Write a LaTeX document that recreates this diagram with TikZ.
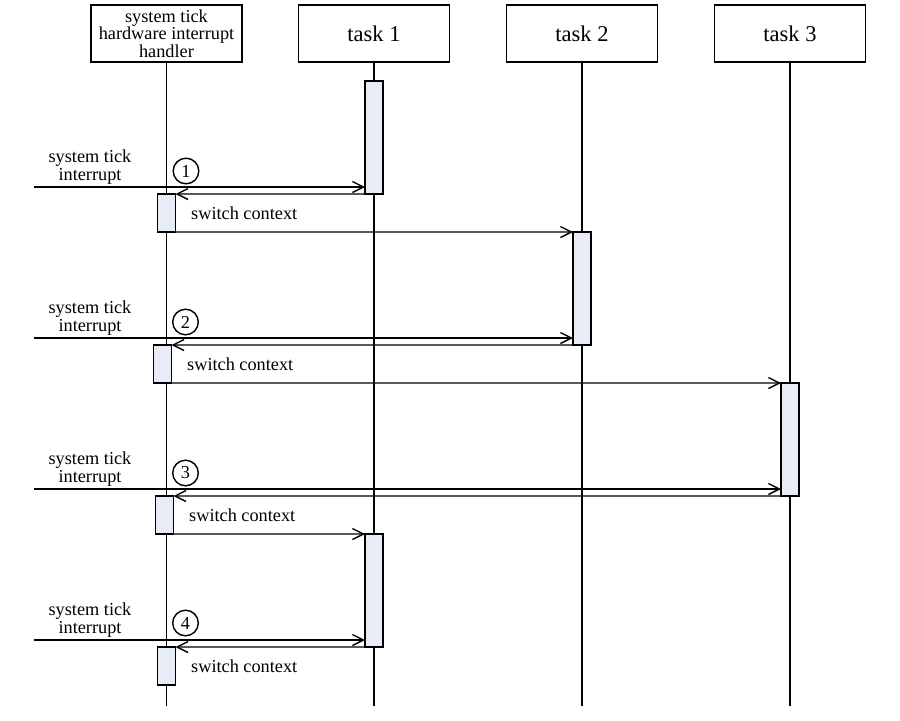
\documentclass[tikz,border=0pt]{standalone}
\usepackage{fontspec}
\setmainfont{Liberation Serif}
\usetikzlibrary{arrows.meta, positioning}
\definecolor{actfill}{RGB}{232,236,246}

\begin{document}
\begin{tikzpicture}[
    x=0.25mm, y=-0.25mm, line width=1pt,
    head/.style={rectangle, draw, line width=1.2pt, minimum width=37.75mm, minimum height=14.25mm, inner sep=0pt, align=center},
    act/.style={rectangle, draw, line width=1.2pt, fill=actfill, minimum width=4.5mm, inner sep=0pt, outer sep=0pt, anchor=north},
    msg/.style={-{Straight Barb[length=2.75mm, width=2.75mm, line width=1pt]}},
    lbl/.style={inner sep=0pt, align=center, font=\fontsize{13}{12.6}\selectfont},
    num/.style={circle, draw, minimum size=6.4mm, inner sep=0pt, font=\fontsize{13}{13}\selectfont}
]
\useasboundingbox[fill=white] (0,0) rectangle (900,720);

\node[head, font=\fontsize{13}{12.6}\selectfont] (hdl) at (166.5,33.5) {system tick\\hardware interrupt\\handler};
\node[head, font=\fontsize{16}{19}\selectfont] (t1) at (374,33.5) {task 1};
\node[head, font=\fontsize{16}{19}\selectfont] (t2) at (582,33.5) {task 2};
\node[head, font=\fontsize{16}{19}\selectfont] (t3) at (790,33.5) {task 3};

\foreach \n in {hdl,t1,t2,t3}
    \draw (\n.south) -- ++(0,643);

\node[act, minimum height=28.25mm] (a1) at (374,81) {};
\node[act, minimum height=28.25mm] (a2) at (582,232) {};
\node[act, minimum height=28.25mm] (a3) at (790,383) {};
\node[act, minimum height=28.25mm] (a4) at (374,534) {};
\node[act, minimum height=9.5mm] (h1) at (166.5,194) {};
\node[act, minimum height=9.5mm] (h2) at (162.5,345) {};
\node[act, minimum height=9.5mm] (h3) at (164.5,496) {};
\node[act, minimum height=9.5mm] (h4) at (166.5,647) {};

\coordinate (s1) at (34,187);
\coordinate (s2) at (34,338);
\coordinate (s3) at (34,489);
\coordinate (s4) at (34,640);

\node[lbl] (i1) at (90,167) {system tick\\interrupt};
\node[lbl] (i2) at (90,318) {system tick\\interrupt};
\node[lbl] (i3) at (90,469) {system tick\\interrupt};
\node[lbl] (i4) at (90,620) {system tick\\interrupt};

\node[num] (n1) at (186,171) {1};
\node[num] (n2) at (185.5,322) {2};
\node[num] (n3) at (185.5,473) {3};
\node[num] (n4) at (185.5,623) {4};

\draw[msg] (s1) -- (s1 -| a1.west);
\draw[msg] (a1.south west) -- (h1.north east);
\draw[msg] (h1.south east) -- (a2.north west);
\node[lbl, right=3.75mm of h1] (c1) {switch context};

\draw[msg] (s2) -- (s2 -| a2.west);
\draw[msg] (a2.south west) -- (h2.north east);
\draw[msg] (h2.south east) -- (a3.north west);
\node[lbl, right=3.75mm of h2] (c2) {switch context};

\draw[msg] (s3) -- (s3 -| a3.west);
\draw[msg] (a3.south west) -- (h3.north east);
\draw[msg] (h3.south east) -- (a4.north west);
\node[lbl, right=3.75mm of h3] (c3) {switch context};

\draw[msg] (s4) -- (s4 -| a4.west);
\draw[msg] (a4.south west) -- (h4.north east);
\node[lbl, right=3.75mm of h4] (c4) {switch context};

\end{tikzpicture}
\end{document}
